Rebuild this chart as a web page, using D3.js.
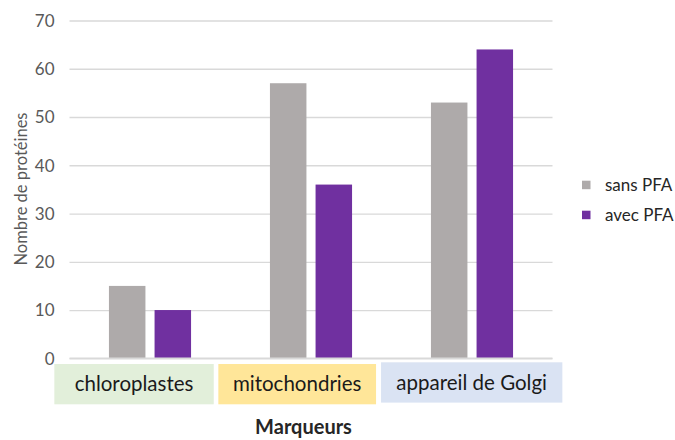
<!DOCTYPE html>
<html>
<head>
<meta charset="utf-8">
<script src="https://cdn.jsdelivr.net/npm/d3@7"></script>
<style>
  html, body { margin: 0; padding: 0; background: #fff; }
  svg { display: block; }
  text { font-family: Lato, "Open Sans", sans-serif; }
</style>
</head>
<body>
<svg id="chart" width="675" height="440"></svg>
<script>
// Marqueurs et nombre de protéines détectées
const categories = ["chloroplastes", "mitochondries", "appareil de Golgi"];
const seriesNames = ["sans PFA", "avec PFA"];
const sansPFA = [15, 57, 53];
const avecPFA = [10, 36, 64];
const yTicks = [0, 10, 20, 30, 40, 50, 60, 70];

const colors = ["#aeaaaa", "#7030a0"];
const boxColors = ["#e2efda", "#ffe699", "#dae3f3"];

const svg = d3.select("#chart");
const margin = { left: 69.5, right: 122.5, top: 20.5, bottom: 81.7 };
const W = 675, H = 440;

const x = d3.scaleBand()
  .domain(categories)
  .range([margin.left, W - margin.right])
  .paddingInner(0.49)
  .paddingOuter(0.245);

const xs = d3.scaleBand()
  .domain(seriesNames)
  .range([0, x.bandwidth()])
  .paddingInner(0.2);

const y = d3.scaleLinear()
  .domain([0, 70])
  .range([H - margin.bottom, margin.top]);

// gridlines
const yAxis = d3.axisLeft(y)
  .tickValues(yTicks)
  .tickSize(-(W - margin.left - margin.right))
  .tickPadding(15)
  .tickFormat(d3.format("d"));

const gy = svg.append("g")
  .attr("transform", `translate(${margin.left},0)`)
  .call(yAxis);
gy.select(".domain").remove();
gy.selectAll(".tick line").attr("stroke", "#d9d9d9").attr("stroke-width", 1.3);
gy.selectAll(".tick text")
  .attr("fill", "#595959")
  .style("font-size", "17px")
  .attr("dy", "0.35em");

// bars
const rows = categories.map((c, i) => ({ cat: c, vals: [sansPFA[i], avecPFA[i]] }));
const groups = svg.append("g").selectAll("g")
  .data(rows).join("g")
  .attr("transform", d => `translate(${x(d.cat)},0)`);

groups.selectAll("rect")
  .data(d => d.vals.map((v, j) => ({ name: seriesNames[j], v, j })))
  .join("rect")
  .attr("x", d => xs(d.name))
  .attr("width", xs.bandwidth())
  .attr("y", d => y(d.v))
  .attr("height", d => y(0) - y(d.v))
  .attr("fill", d => colors[d.j]);

// baseline
svg.append("line")
  .attr("x1", margin.left).attr("x2", W - margin.right)
  .attr("y1", y(0)).attr("y2", y(0))
  .attr("stroke", "#d9d9d9").attr("stroke-width", 1.5);

// category label boxes (extents relative to each band)
const boxExt = [[-54.6, 104.8], [-51.6, 106.1], [-49.9, 131.4]];
const boxTop = [364, 364, 362.3];
const boxH = 40.3;
categories.forEach((c, i) => {
  const x0 = x(c) + boxExt[i][0], x1 = x(c) + boxExt[i][1];
  svg.append("rect")
    .attr("x", x0).attr("y", boxTop[i])
    .attr("width", x1 - x0).attr("height", boxH)
    .attr("fill", boxColors[i]);
  svg.append("text")
    .attr("x", (x0 + x1) / 2)
    .attr("y", boxTop[i] + boxH / 2)
    .attr("dy", "0.35em")
    .attr("text-anchor", "middle")
    .attr("fill", "#1a1a1a")
    .style("font-size", "20.5px")
    .text(c);
});

// axis titles
svg.append("text")
  .attr("x", 303.5)
  .attr("y", 434)
  .attr("text-anchor", "middle")
  .attr("fill", "#262626")
  .style("font-size", "20px")
  .style("font-weight", "bold")
  .text("Marqueurs");

svg.append("text")
  .attr("transform", `translate(27,189) rotate(-90)`)
  .attr("text-anchor", "middle")
  .attr("fill", "#595959")
  .style("font-size", "16.5px")
  .text("Nombre de protéines");

// legend
const legend = svg.append("g").selectAll("g")
  .data(seriesNames).join("g")
  .attr("transform", (d, i) => `translate(582,${180.7 + i * 30})`);
legend.append("rect")
  .attr("width", 8.5).attr("height", 8.5)
  .attr("fill", (d, i) => colors[i]);
legend.append("text")
  .attr("x", 23).attr("y", 4.3)
  .attr("dy", "0.35em")
  .attr("fill", "#262626")
  .style("font-size", "17px")
  .text(d => d);
</script>
</body>
</html>
